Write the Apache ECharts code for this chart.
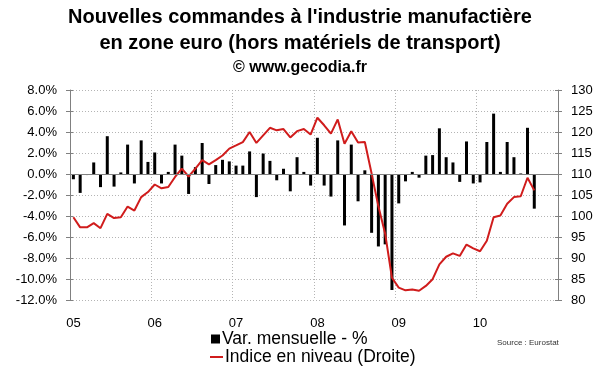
<!DOCTYPE html>
<html>
<head>
<meta charset="utf-8">
<script src="https://cdn.jsdelivr.net/npm/echarts@6/dist/echarts.min.js"></script>
<style>
html,body{margin:0;padding:0;background:#fff;}
#c{width:600px;height:372px;}
</style>
</head>
<body>
<div id="c"></div>
<script>
// ---- data ----
const years = ['2005', '2006', '2007', '2008', '2009', '2010'];
const yearLabels = ['05', '06', '07', '08', '09', '10'];
const months = ['01','02','03','04','05','06','07','08','09','10','11','12'];

// Monthly variation, % (left axis), Jan 2005 - Sep 2010
const varMensuelle = [
  -0.5, -1.8, -0.1, 1.1, -1.25, 3.6, -1.2, 0.15, 2.8, -0.9, 3.2, 1.15,
  2.05, -0.9, 0.2, 2.8, 1.75, -1.9, 0.65, 2.95, -0.95, 0.85, 1.35, 1.2,
  0.8, 0.8, 2.15, -2.2, 1.95, 1.25, -0.6, 0.5, -1.65, 1.6, 0.2, -1.1,
  3.45, -1.1, -2.15, 3.2, -4.9, 2.8, -2.6, 0.35, -5.6, -6.9, -6.7, -11.05,
  -2.8, -0.7, 0.2, -0.35, 1.75, 1.8, 4.35, 1.6, 1.1, -0.75, 3.1, -0.9,
  -0.8, 3.05, 5.75, 0.2, 3.05, 1.6, 0.05, 4.4, -3.3
];

// Index level (right axis), Jan 2005 - Sep 2010
const indiceNiveau = [
  99.7, 97.3, 97.3, 98.3, 97.1, 100.5, 99.5, 99.7, 102.25, 101.3, 104.5, 105.7,
  107.5, 106.6, 106.9, 109.3, 111.3, 109.4, 111.3, 113.3, 112.3, 113.3, 114.4, 116.05,
  116.8, 117.6, 120.0, 117.4, 119.2, 121.0, 120.4, 120.7, 118.7, 120.2, 120.7, 119.4,
  123.4, 121.6, 119.6, 123.0, 117.2, 120.2, 117.5, 117.6, 110.1, 102.3, 95.8, 85.3,
  82.95, 82.3, 82.5, 82.2, 83.35, 84.95, 88.5, 90.3, 91.1, 90.5, 93.2, 92.3,
  91.6, 94.1, 99.7, 100.1, 102.9, 104.5, 104.7, 109.1, 106.1
];

const categories = [];
years.forEach(y => months.forEach(m => categories.push(y + '-' + m)));

// ---- chart ----
const FONT = '"Liberation Sans", Arial, sans-serif';
const chart = echarts.init(document.getElementById('c'), null, {renderer: 'canvas'});

const gridLineStyle = {color: '#b4b4b4', type: [1, 2], width: 1};
const axisGrey = '#808080';

chart.setOption({
  animation: false,
  backgroundColor: '#ffffff',
  textStyle: {fontFamily: FONT},
  graphic: [
    {type: 'text', left: 'center', top: 7, style: {text: "Nouvelles commandes à l'industrie manufactière", fontSize: 20, fontWeight: 'bold', fontFamily: FONT, fill: '#000'}},
    {type: 'text', left: 'center', top: 33, style: {text: 'en zone euro (hors matériels de transport)', fontSize: 20, fontWeight: 'bold', fontFamily: FONT, fill: '#000'}},
    {type: 'text', left: 'center', top: 60, style: {text: '© www.gecodia.fr', fontSize: 16, fontWeight: 'bold', fontFamily: FONT, fill: '#000'}},
    {type: 'text', left: 497, top: 339, style: {text: 'Source : Eurostat', fontSize: 8, fontFamily: FONT, fill: '#333'}}
  ],
  legend: [
    {data: ['Var. mensuelle - %'], left: 211, top: 330, padding: 0, icon: 'rect', itemWidth: 9, itemHeight: 9, itemGap: 4,
     textStyle: {fontSize: 17.5, fontFamily: FONT, color: '#000', padding: [0, 0, 0, -3]}},
    {data: ['Indice en niveau (Droite)'], left: 210, top: 348, padding: 0, itemWidth: 13, itemHeight: 2, icon: 'rect',
     textStyle: {fontSize: 17.5, fontFamily: FONT, color: '#000', padding: [0, 0, 0, -3]}}
  ],
  grid: {left: 70, right: 42, top: 90, bottom: 72, containLabel: false},
  xAxis: [{
    type: 'category',
    data: categories,
    boundaryGap: true,
    axisLine: {show: false, onZero: false},
    axisTick: {show: false},
    axisLabel: {
      interval: 0, margin: 17, fontSize: 13, color: '#000', fontFamily: FONT,
      formatter: (v, i) => (i % 12 === 0 ? yearLabels[i / 12] : '')
    },
    splitLine: {show: true, interval: (i) => i % 12 === 0 && i > 0, lineStyle: gridLineStyle}
  }],
  yAxis: [
    {
      type: 'value', position: 'left', min: -12, max: 8, interval: 2,
      axisLine: {show: true, lineStyle: {color: axisGrey}},
      axisTick: {show: true, length: 4, lineStyle: {color: axisGrey}},
      axisLabel: {margin: 13, fontSize: 13, color: '#000', fontFamily: FONT, formatter: v => v.toFixed(1) + '%'},
      splitLine: {show: true, lineStyle: gridLineStyle}
    },
    {
      type: 'value', position: 'right', min: 80, max: 130, interval: 5,
      axisLine: {show: true, lineStyle: {color: axisGrey}},
      axisTick: {show: true, length: 4, lineStyle: {color: axisGrey}},
      axisLabel: {margin: 13, fontSize: 13, color: '#000', fontFamily: FONT},
      splitLine: {show: false}
    },
    {
      type: 'value', position: 'left', min: -12, max: 8, interval: 2,
      axisLine: {show: false}, axisLabel: {show: false}, splitLine: {show: false},
      axisTick: {show: true, inside: true, length: 3, lineStyle: {color: axisGrey}}
    },
    {
      type: 'value', position: 'right', min: 80, max: 130, interval: 5,
      axisLine: {show: false}, axisLabel: {show: false}, splitLine: {show: false},
      axisTick: {show: true, inside: true, length: 3, lineStyle: {color: axisGrey}}
    }
  ],
  series: [
    {
      name: 'Var. mensuelle - %',
      type: 'bar',
      yAxisIndex: 0,
      data: varMensuelle,
      barWidth: 3,
      itemStyle: {color: '#000'},
      markLine: {
        silent: true, symbol: 'none', label: {show: false},
        lineStyle: {color: axisGrey, type: 'solid', width: 1},
        data: [{yAxis: 0}]
      },
      z: 3
    },
    {
      name: 'Indice en niveau (Droite)',
      type: 'line',
      yAxisIndex: 1,
      data: indiceNiveau,
      symbol: 'none',
      lineStyle: {color: '#d01c1c', width: 2},
      itemStyle: {color: '#d01c1c'},
      z: 4
    }
  ]
});
</script>
</body>
</html>
